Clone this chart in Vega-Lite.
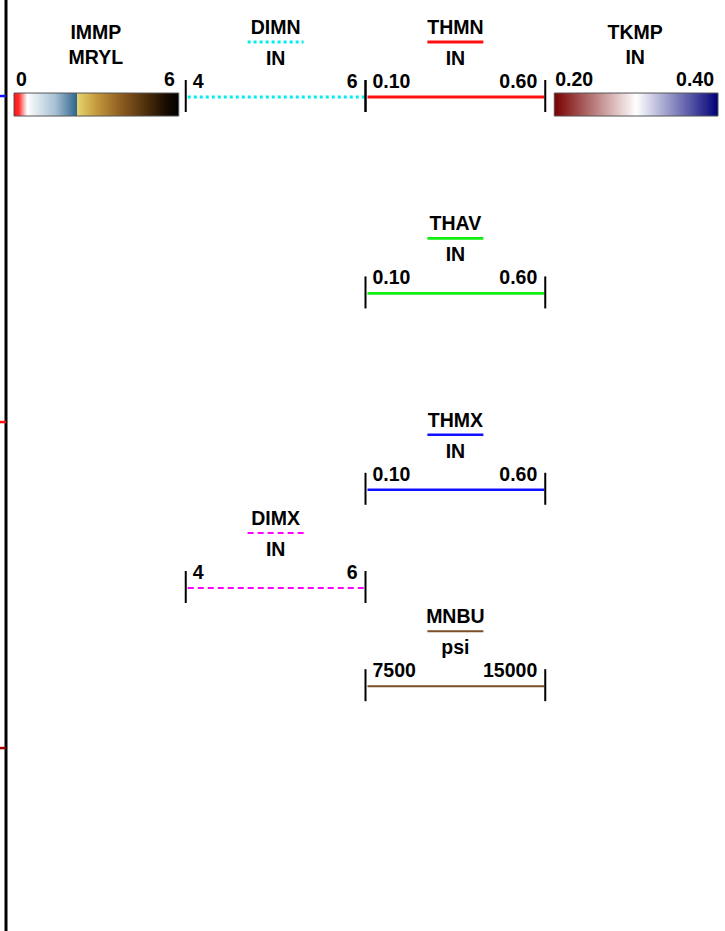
{
  "$schema": "https://vega.github.io/schema/vega-lite/v6.json",
  "width": 725,
  "height": 931,
  "padding": 0,
  "autosize": {"type": "none"},
  "background": "white",
  "config": {
    "view": {"stroke": null},
    "text": {"font": "Liberation Sans", "fontWeight": "bold", "fontSize": 19.5, "color": "#000000", "baseline": "alphabetic"}
  },
  "datasets": {
    "curves": [
      {"name": "DIMN", "unit": "IN", "lo": "4", "hi": "6", "track": 1, "row": 0},
      {"name": "THMN", "unit": "IN", "lo": "0.10", "hi": "0.60", "track": 2, "row": 0},
      {"name": "THAV", "unit": "IN", "lo": "0.10", "hi": "0.60", "track": 2, "row": 2},
      {"name": "THMX", "unit": "IN", "lo": "0.10", "hi": "0.60", "track": 2, "row": 4},
      {"name": "DIMX", "unit": "IN", "lo": "4", "hi": "6", "track": 1, "row": 5},
      {"name": "MNBU", "unit": "psi", "lo": "7500", "hi": "15000", "track": 2, "row": 6}
    ],
    "bars": [
      {"name": "IMMP", "unit": "MRYL", "lo": "0", "hi": "6", "track": 0, "row": 0},
      {"name": "TKMP", "unit": "IN", "lo": "0.20", "hi": "0.40", "track": 3, "row": 0}
    ],
    "edge": [
      {"name": "m1", "row": -0.01},
      {"name": "m2", "row": 3.31},
      {"name": "m3", "row": 6.63}
    ],
    "frame": [{"edge": 0}]
  },
  "layer": [
    {
      "data": {"name": "frame"},
      "mark": {"type": "rule", "color": "#000000", "strokeWidth": 3},
      "encoding": {
        "x": {"field": "edge", "type": "quantitative", "scale": {"domain": [-0.0334, 4], "nice": false, "zero": false}, "axis": null}
      }
    },
    {
      "data": {"name": "edge"},
      "mark": {"type": "rule", "strokeWidth": 2.5},
      "encoding": {
        "x": {"datum": -0.0334, "type": "quantitative", "scale": {"domain": [-0.0334, 4], "nice": false, "zero": false}, "axis": null},
        "x2": {"datum": 0},
        "y": {"field": "row", "type": "quantitative", "scale": {"domain": [-0.988, 8.493], "reverse": true, "nice": false, "zero": false}, "axis": null},
        "color": {"field": "name", "type": "nominal", "legend": null,
          "scale": {"domain": ["DIMN", "THMN", "THAV", "THMX", "DIMX", "MNBU", "m1", "m2", "m3"],
                    "range": ["#00eeee", "#ff1010", "#11ee11", "#1010ff", "#ff00ff", "#7a4f2a", "#1010ff", "#ff1010", "#a00000"]}}
      }
    },
    {
      "data": {"name": "curves"},
      "transform": [
        {"calculate": "datum.track + 1", "as": "trackEnd"},
        {"calculate": "datum.track + 0.5", "as": "center"}
      ],
      "encoding": {
        "y": {"field": "row", "type": "quantitative", "scale": {"domain": [-0.988, 8.493], "reverse": true, "nice": false, "zero": false}, "axis": null}
      },
      "layer": [
        {
          "mark": {"type": "rule", "xOffset": 2, "x2Offset": -1},
          "encoding": {
            "x": {"field": "track", "type": "quantitative", "scale": {"domain": [-0.0334, 4], "nice": false, "zero": false}, "axis": null},
            "x2": {"field": "trackEnd"},
            "color": {"field": "name", "type": "nominal", "legend": null,
              "scale": {"domain": ["DIMN", "THMN", "THAV", "THMX", "DIMX", "MNBU", "m1", "m2", "m3"],
                        "range": ["#00eeee", "#ff1010", "#11ee11", "#1010ff", "#ff00ff", "#7a4f2a", "#1010ff", "#ff1010", "#a00000"]}},
            "strokeDash": {"field": "name", "type": "nominal", "legend": null,
              "scale": {"domain": ["DIMN", "THMN", "THAV", "THMX", "DIMX", "MNBU"],
                        "range": [[3, 3], [1, 0], [1, 0], [1, 0], [6, 4], [1, 0]]}},
            "size": {"field": "name", "type": "nominal", "legend": null,
              "scale": {"domain": ["DIMN", "THMN", "THAV", "THMX", "DIMX", "MNBU"],
                        "range": [3, 2, 2.5, 2, 3, 2]}}
          }
        },
        {
          "mark": {"type": "rule", "xOffset": -28, "x2Offset": 28, "yOffset": -55},
          "encoding": {
            "x": {"field": "center", "type": "quantitative", "scale": {"domain": [-0.0334, 4], "nice": false, "zero": false}, "axis": null},
            "x2": {"field": "center"},
            "color": {"field": "name", "type": "nominal", "legend": null,
              "scale": {"domain": ["DIMN", "THMN", "THAV", "THMX", "DIMX", "MNBU", "m1", "m2", "m3"],
                        "range": ["#00eeee", "#ff1010", "#11ee11", "#1010ff", "#ff00ff", "#7a4f2a", "#1010ff", "#ff1010", "#a00000"]}},
            "strokeDash": {"field": "name", "type": "nominal", "legend": null,
              "scale": {"domain": ["DIMN", "THMN", "THAV", "THMX", "DIMX", "MNBU"],
                        "range": [[3, 3], [1, 0], [1, 0], [1, 0], [6, 4], [1, 0]]}},
            "size": {"field": "name", "type": "nominal", "legend": null,
              "scale": {"domain": ["DIMN", "THMN", "THAV", "THMX", "DIMX", "MNBU"],
                        "range": [3, 2, 2.5, 2, 3, 2]}}
          }
        },
        {
          "mark": {"type": "rule", "color": "#000000", "strokeWidth": 2, "yOffset": -17, "y2Offset": 15},
          "encoding": {
            "x": {"field": "track", "type": "quantitative", "scale": {"domain": [-0.0334, 4], "nice": false, "zero": false}, "axis": null},
            "y2": {"field": "row"}
          }
        },
        {
          "mark": {"type": "rule", "color": "#000000", "strokeWidth": 2, "yOffset": -17, "y2Offset": 15},
          "encoding": {
            "x": {"field": "trackEnd", "type": "quantitative", "scale": {"domain": [-0.0334, 4], "nice": false, "zero": false}, "axis": null},
            "y2": {"field": "row"}
          }
        },
        {
          "mark": {"type": "text", "align": "center", "yOffset": -63},
          "encoding": {
            "x": {"field": "center", "type": "quantitative", "scale": {"domain": [-0.0334, 4], "nice": false, "zero": false}, "axis": null},
            "text": {"field": "name"}
          }
        },
        {
          "mark": {"type": "text", "align": "center", "yOffset": -32},
          "encoding": {
            "x": {"field": "center", "type": "quantitative", "scale": {"domain": [-0.0334, 4], "nice": false, "zero": false}, "axis": null},
            "text": {"field": "unit"}
          }
        },
        {
          "mark": {"type": "text", "align": "left", "xOffset": 7, "yOffset": -9},
          "encoding": {
            "x": {"field": "track", "type": "quantitative", "scale": {"domain": [-0.0334, 4], "nice": false, "zero": false}, "axis": null},
            "text": {"field": "lo"}
          }
        },
        {
          "mark": {"type": "text", "align": "right", "xOffset": -8, "yOffset": -9},
          "encoding": {
            "x": {"field": "trackEnd", "type": "quantitative", "scale": {"domain": [-0.0334, 4], "nice": false, "zero": false}, "axis": null},
            "text": {"field": "hi"}
          }
        }
      ]
    },
    {
      "data": {"name": "bars"},
      "transform": [
        {"calculate": "datum.track + 1", "as": "trackEnd"},
        {"calculate": "datum.track + 0.5", "as": "center"}
      ],
      "encoding": {
        "y": {"field": "row", "type": "quantitative", "scale": {"domain": [-0.988, 8.493], "reverse": true, "nice": false, "zero": false}, "axis": null}
      },
      "layer": [
        {
          "transform": [{"filter": "datum.name === 'IMMP'"}],
          "mark": {"type": "rect", "xOffset": 8, "x2Offset": -7, "yOffset": -4, "y2Offset": 19, "stroke": "#555555", "strokeWidth": 1,
            "fill": {"gradient": "linear", "stops": [
              {"offset": 0, "color": "#ff1010"},
              {"offset": 0.03, "color": "#ff3030"},
              {"offset": 0.06, "color": "#f8b0b0"},
              {"offset": 0.08, "color": "#ffffff"},
              {"offset": 0.12, "color": "#e8eff4"},
              {"offset": 0.25, "color": "#a7c1d3"},
              {"offset": 0.38, "color": "#2f6690"},
              {"offset": 0.382, "color": "#e8d470"},
              {"offset": 0.5, "color": "#c49a3c"},
              {"offset": 0.65, "color": "#8e5c20"},
              {"offset": 0.8, "color": "#4e300c"},
              {"offset": 0.92, "color": "#1a0c00"},
              {"offset": 1, "color": "#000000"}
            ]}},
          "encoding": {
            "x": {"field": "track", "type": "quantitative", "scale": {"domain": [-0.0334, 4], "nice": false, "zero": false}, "axis": null},
            "x2": {"field": "trackEnd"},
            "y2": {"field": "row"}
          }
        },
        {
          "transform": [{"filter": "datum.name === 'TKMP'"}],
          "mark": {"type": "rect", "xOffset": 9, "x2Offset": -7, "yOffset": -4, "y2Offset": 19, "stroke": "#555555", "strokeWidth": 1,
            "fill": {"gradient": "linear", "stops": [
              {"offset": 0, "color": "#780000"},
              {"offset": 0.5, "color": "#ffffff"},
              {"offset": 1, "color": "#000078"}
            ]}},
          "encoding": {
            "x": {"field": "track", "type": "quantitative", "scale": {"domain": [-0.0334, 4], "nice": false, "zero": false}, "axis": null},
            "x2": {"field": "trackEnd"},
            "y2": {"field": "row"}
          }
        },
        {
          "mark": {"type": "text", "align": "center", "yOffset": -58},
          "encoding": {
            "x": {"field": "center", "type": "quantitative", "scale": {"domain": [-0.0334, 4], "nice": false, "zero": false}, "axis": null},
            "text": {"field": "name"}
          }
        },
        {
          "mark": {"type": "text", "align": "center", "yOffset": -33},
          "encoding": {
            "x": {"field": "center", "type": "quantitative", "scale": {"domain": [-0.0334, 4], "nice": false, "zero": false}, "axis": null},
            "text": {"field": "unit"}
          }
        },
        {
          "mark": {"type": "text", "align": "left", "xOffset": 10, "yOffset": -11},
          "encoding": {
            "x": {"field": "track", "type": "quantitative", "scale": {"domain": [-0.0334, 4], "nice": false, "zero": false}, "axis": null},
            "text": {"field": "lo"}
          }
        },
        {
          "mark": {"type": "text", "align": "right", "xOffset": -11, "yOffset": -11},
          "encoding": {
            "x": {"field": "trackEnd", "type": "quantitative", "scale": {"domain": [-0.0334, 4], "nice": false, "zero": false}, "axis": null},
            "text": {"field": "hi"}
          }
        }
      ]
    }
  ]
}
